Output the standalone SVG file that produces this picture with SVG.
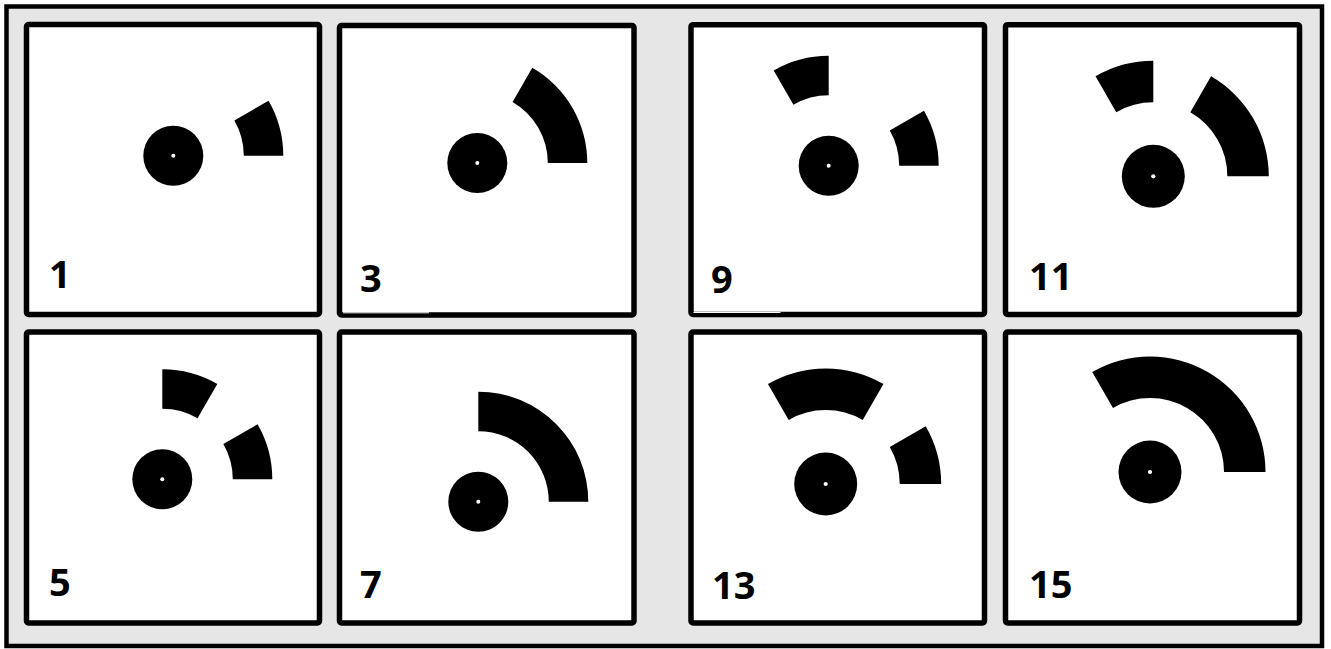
<svg xmlns="http://www.w3.org/2000/svg" xmlns:xlink="http://www.w3.org/1999/xlink" width="1331" height="649" viewBox="0 0 1331 649">
<style>
.panel{fill:#ffffff;stroke:#000000;stroke-width:5.5}
.lbl{font-family:"Open Sans","Liberation Sans",sans-serif;font-weight:700;font-size:38px;fill:#000000}
.arc{fill:#000000}
.hub{fill:#000000}
.dot{fill:#ffffff}
</style>
<defs>
<path id="s0_30" d="M 110 0 A 110 110 0 0 0 95.263 -55 L 61.055 -35.25 A 70.5 70.5 0 0 1 70.5 0 Z"/>
<path id="s90_120" d="M 0 -110 A 110 110 0 0 0 -55 -95.263 L -35.25 -61.055 A 70.5 70.5 0 0 1 0 -70.5 Z"/>
<path id="s60_90" d="M 55 -95.263 A 110 110 0 0 0 0 -110 L 0 -70.5 A 70.5 70.5 0 0 1 35.25 -61.055 Z"/>
<path id="s0_60" d="M 110 0 A 110 110 0 0 0 55 -95.263 L 35.25 -61.055 A 70.5 70.5 0 0 1 70.5 0 Z"/>
<path id="s0_90" d="M 110 0 A 110 110 0 0 0 0 -110 L 0 -70.5 A 70.5 70.5 0 0 1 70.5 0 Z"/>
<path id="s60_120" d="M 55 -95.263 A 110 110 0 0 0 -55 -95.263 L -35.25 -61.055 A 70.5 70.5 0 0 1 35.25 -61.055 Z"/>
<path id="s0_120" d="M 110 0 A 110 110 0 0 0 -55 -95.263 L -35.25 -61.055 A 70.5 70.5 0 0 1 70.5 0 Z"/>
<g id="hubdot"><circle class="hub" cx="0" cy="0" r="30"/><circle class="dot" cx="0" cy="0" r="2"/></g>
</defs>
<rect x="6.5" y="6.5" width="1315.5" height="639.5" fill="#e6e6e6" stroke="#000000" stroke-width="4.5"/>

<g id="panel-1">
<rect class="panel" x="26.5" y="24.5" width="293" height="290" rx="2"/>
<g transform="translate(173.3,155.7)"><use xlink:href="#hubdot" href="#hubdot"/><use class="arc" xlink:href="#s0_30" href="#s0_30"/></g>
<text class="lbl" x="49" y="288">1</text>
</g>

<g id="panel-3">
<rect class="panel" x="339.5" y="25.5" width="294.5" height="289.5" rx="2"/>
<rect x="343" y="312.3" width="86" height="1" fill="#ffffff"/>
<g transform="translate(477.3,163)"><use xlink:href="#hubdot" href="#hubdot"/><use class="arc" xlink:href="#s0_60" href="#s0_60"/></g>
<text class="lbl" x="360" y="292">3</text>
</g>

<g id="panel-9">
<rect class="panel" x="691" y="24.7" width="293.5" height="289.8" rx="2"/>
<rect x="693.5" y="312" width="87" height="1" fill="#ffffff"/>
<g transform="translate(828.7,165.7)"><use xlink:href="#hubdot" href="#hubdot"/><use class="arc" xlink:href="#s0_30" href="#s0_30"/><use class="arc" xlink:href="#s90_120" href="#s90_120"/></g>
<text class="lbl" x="711" y="293">9</text>
</g>

<g id="panel-11">
<rect class="panel" x="1005.5" y="24.7" width="294" height="289.8" rx="2"/>
<g transform="translate(1153.3,176.3) scale(1.05)"><use xlink:href="#hubdot" href="#hubdot"/><use class="arc" xlink:href="#s0_60" href="#s0_60"/><use class="arc" xlink:href="#s90_120" href="#s90_120"/></g>
<text class="lbl" x="1029" y="290">11</text>
</g>

<g id="panel-5">
<rect class="panel" x="26.5" y="332" width="293" height="291" rx="2"/>
<g transform="translate(162.3,479.3)"><use xlink:href="#hubdot" href="#hubdot"/><use class="arc" xlink:href="#s0_30" href="#s0_30"/><use class="arc" xlink:href="#s60_90" href="#s60_90"/></g>
<text class="lbl" x="49" y="596">5</text>
</g>

<g id="panel-7">
<rect class="panel" x="339.5" y="332" width="294.5" height="291" rx="2"/>
<g transform="translate(478.3,501.7)"><use xlink:href="#hubdot" href="#hubdot"/><use class="arc" xlink:href="#s0_90" href="#s0_90"/></g>
<text class="lbl" x="360" y="598">7</text>
</g>

<g id="panel-13">
<rect class="panel" x="691" y="332" width="293.5" height="291" rx="2"/>
<g transform="translate(825.7,484) scale(1.05)"><use xlink:href="#hubdot" href="#hubdot"/><use class="arc" xlink:href="#s0_30" href="#s0_30"/><use class="arc" xlink:href="#s60_120" href="#s60_120"/></g>
<text class="lbl" x="712" y="599">13</text>
</g>

<g id="panel-15">
<rect class="panel" x="1005.5" y="332" width="294" height="291" rx="2"/>
<g transform="translate(1150,472) scale(1.05)"><use xlink:href="#hubdot" href="#hubdot"/><use class="arc" xlink:href="#s0_120" href="#s0_120"/></g>
<text class="lbl" x="1029" y="598">15</text>
</g>

<g id="connectors"></g>
</svg>
